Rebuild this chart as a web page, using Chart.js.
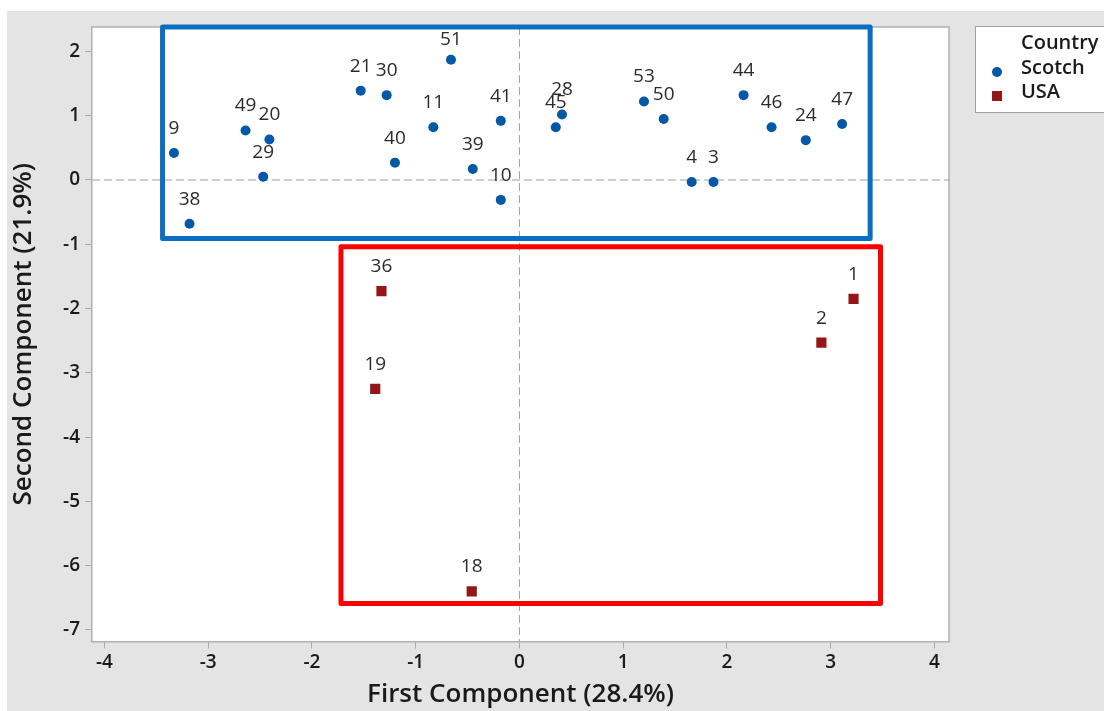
<!DOCTYPE html>
<html>
<head>
<meta charset="utf-8">
<script src="https://cdn.jsdelivr.net/npm/chart.js@4.4.1/dist/chart.umd.min.js"></script>
<style>
  body { margin: 0; background: #fff; }
  #wrap { width: 1104px; height: 711px; }
</style>
</head>
<body>
<div id="wrap"><canvas id="pca" width="1104" height="711"></canvas></div>
<script>
// scores on the first two components, one label per point
var scotchIds = ['9', '38', '49', '20', '29', '21', '30', '40', '51', '11', '39', '41', '10', '45', '28', '53', '50', '4', '3', '44', '46', '24', '47'];
var scotchX = [-3.33, -3.18, -2.64, -2.41, -2.47, -1.53, -1.28, -1.20, -0.66, -0.83, -0.45, -0.18, -0.18, 0.35, 0.41, 1.20, 1.39, 1.66, 1.87, 2.16, 2.43, 2.76, 3.11];
var scotchY = [0.42, -0.68, 0.77, 0.63, 0.05, 1.39, 1.32, 0.27, 1.87, 0.82, 0.17, 0.92, -0.31, 0.82, 1.02, 1.22, 0.95, -0.03, -0.03, 1.32, 0.82, 0.62, 0.87];
var usaIds = ['36', '19', '1', '2', '18'];
var usaX = [-1.33, -1.39, 3.22, 2.91, -0.46];
var usaY = [-1.73, -3.25, -1.85, -2.53, -6.40];
var xTicks = [-4, -3, -2, -1, 0, 1, 2, 3, 4];
var yTicks = [2, 1, 0, -1, -2, -3, -4, -5, -6, -7];
// highlighted groups in axis units: [xMin, xMax, yMin, yMax]
var blueBox = [-3.44, 3.38, -0.91, 2.38];
var redBox = [-1.72, 3.48, -6.59, -1.04];

var FONT = '"Open Sans", "Noto Sans", sans-serif';

function points(xs, ys) {
    return xs.map(function(x, i) { return {x: x, y: ys[i]}; });
}

var pcaPlugin = {
    id: 'pcaPlugin',
    beforeDraw: function(chart) {
        var c = chart.ctx, a = chart.chartArea;
        c.save();
        c.fillStyle = '#e4e4e4';
        c.fillRect(7, 11, chart.width - 7, chart.height - 11);
        c.fillStyle = '#fff';
        c.fillRect(a.left, a.top, a.right - a.left, a.bottom - a.top);
        c.restore();
    },
    beforeDatasetsDraw: function(chart) {
        var c = chart.ctx, a = chart.chartArea;
        var x0 = chart.scales.x.getPixelForValue(0);
        var y0 = chart.scales.y.getPixelForValue(0);
        c.save();
        c.strokeStyle = '#a0a0a0';
        c.lineWidth = 1;
        c.setLineDash([8, 4]);
        c.beginPath();
        c.moveTo(x0, a.top); c.lineTo(x0, a.bottom);
        c.moveTo(a.left, y0); c.lineTo(a.right, y0);
        c.stroke();
        c.setLineDash([]);
        c.strokeStyle = '#b0b0b0';
        c.lineWidth = 1.5;
        c.beginPath();
        c.moveTo(a.left, a.top); c.lineTo(a.right, a.top); c.lineTo(a.right, a.bottom);
        c.stroke();
        c.restore();
    },
    afterDatasetsDraw: function(chart) {
        var c = chart.ctx, sx = chart.scales.x, sy = chart.scales.y;
        var top = chart.chartArea.top;
        // point labels, kept inside the plot area
        c.save();
        c.font = '400 19px ' + FONT;
        c.fillStyle = '#2b2b2b';
        c.textAlign = 'center';
        c.textBaseline = 'middle';
        chart.data.datasets.forEach(function(ds, i) {
            chart.getDatasetMeta(i).data.forEach(function(el, j) {
                c.fillText(ds.ids[j], el.x, Math.max(el.y - 24.5, top + 13));
            });
        });
        // group boxes
        c.lineWidth = 5;
        c.lineJoin = 'round';
        [[blueBox, '#0a6fc2'], [redBox, '#ff0000']].forEach(function(b) {
            var r = b[0];
            var l = sx.getPixelForValue(r[0]), rt = sx.getPixelForValue(r[1]);
            var t = sy.getPixelForValue(r[3]), bt = sy.getPixelForValue(r[2]);
            c.strokeStyle = b[1];
            c.strokeRect(l, t, rt - l, bt - t);
        });
        c.restore();
    },
    afterDraw: function(chart) {
        var c = chart.ctx;
        c.save();
        c.fillStyle = '#fff';
        c.fillRect(975.5, 26.5, 200, 86);
        c.strokeStyle = '#a0a0a0';
        c.lineWidth = 1;
        c.strokeRect(975.5, 26.5, 200, 86);
        c.fillStyle = '#1a1a1a';
        c.font = '600 20px ' + FONT;
        c.textAlign = 'left';
        c.textBaseline = 'middle';
        c.fillText('Country', 1021, 43);
        c.fillText(chart.data.datasets[0].label, 1021, 68);
        c.fillText(chart.data.datasets[1].label, 1021, 92);
        var d0 = chart.data.datasets[0], d1 = chart.data.datasets[1];
        c.fillStyle = d0.backgroundColor;
        c.beginPath();
        c.arc(997, 72, 5, 0, Math.PI * 2);
        c.fill();
        c.fillStyle = d1.backgroundColor;
        c.fillRect(992, 91, 10, 10);
        c.restore();
    }
};

var tickFont = {family: FONT, size: 19, weight: '600'};
var titleFont = {family: FONT, size: 26, weight: '600'};

var ctx = document.getElementById('pca').getContext('2d');
var chart = new Chart(ctx, {
    type: 'scatter',
    data: {
        datasets: [{
            label: 'Scotch',
            ids: scotchIds,
            data: points(scotchX, scotchY),
            pointStyle: 'circle',
            pointRadius: 5,
            borderWidth: 0,
            backgroundColor: '#0557a8',
            borderColor: '#0557a8'
        }, {
            label: 'USA',
            ids: usaIds,
            data: points(usaX, usaY),
            pointStyle: 'rect',
            pointRadius: 7.2,
            borderWidth: 0,
            backgroundColor: '#951616',
            borderColor: '#951616'
        }]
    },
    options: {
        responsive: false,
        animation: false,
        layout: {padding: {left: 0, top: 27, right: 155, bottom: 0}},
        plugins: {legend: {display: false}, tooltip: {enabled: false}},
        scales: {
            x: {
                type: 'linear',
                min: -4.12,
                max: 4.14,
                afterFit: function(s) { s.height = 69.5; },
                afterBuildTicks: function(s) { s.ticks = xTicks.map(function(v) { return {value: v}; }); },
                grid: {drawOnChartArea: false, drawTicks: true, tickLength: 7, tickColor: '#a8a8a8'},
                border: {display: true, color: '#b0b0b0', width: 1.5},
                ticks: {font: tickFont, color: '#1a1a1a', padding: 3, autoSkip: false, maxRotation: 0},
                title: {display: true, text: 'First Component (28.4%)', font: titleFont, color: '#1a1a1a', padding: {top: 0, bottom: 1}}
            },
            y: {
                type: 'linear',
                min: -7.18,
                max: 2.38,
                afterFit: function(s) { s.width = 92; },
                afterBuildTicks: function(s) { s.ticks = yTicks.map(function(v) { return {value: v}; }); },
                grid: {drawOnChartArea: false, drawTicks: true, tickLength: 7, tickColor: '#a8a8a8'},
                border: {display: true, color: '#b0b0b0', width: 1.5},
                ticks: {font: tickFont, color: '#1a1a1a', padding: 5, autoSkip: false},
                title: {display: true, text: 'Second Component (21.9%)', font: titleFont, color: '#1a1a1a', padding: {top: 8, bottom: 0}}
            }
        }
    },
    plugins: [pcaPlugin]
});
</script>
</body>
</html>
